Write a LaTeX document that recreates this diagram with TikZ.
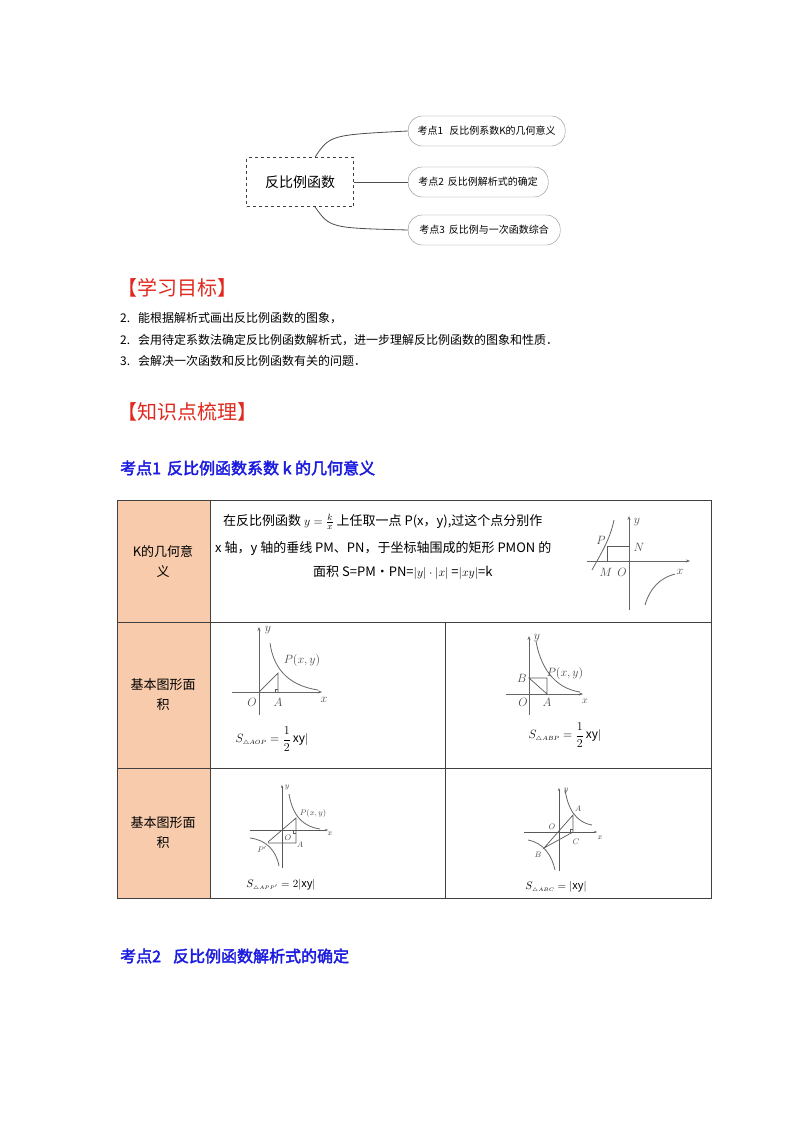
\documentclass[tikz,border=0pt]{standalone}
\usepackage{fontspec}
\setmainfont{Noto Sans CJK SC}
\newfontfamily\bfc{Noto Sans CJK SC}[FakeBold=2.5]
\usetikzlibrary{arrows.meta}
\definecolor{peach}{HTML}{F7CBAC}
\definecolor{redh}{HTML}{E02A20}
\definecolor{blueh}{HTML}{1C1CE0}
\begin{document}
\begin{tikzpicture}[x=1pt,y=-1pt,
  pill/.style={draw=black!45,rounded corners=14pt,minimum height=30pt,inner xsep=6pt,font=\fontsize{10}{11}\selectfont},
  conn/.style={draw=black!70,line width=0.8pt},
  ax/.style={draw=black!60,line width=0.7pt,-{Stealth[length=4pt]}},
  cv/.style={draw=black!60,line width=0.8pt},
  gl/.style={draw=black!65,line width=0.7pt},
  lab/.style={font=\fontsize{12}{12}\selectfont,text=black!70,inner sep=0pt},
  labs/.style={font=\fontsize{8}{8}\selectfont,text=black!70,inner sep=0pt},
  tx/.style={font=\fontsize{13}{15}\selectfont,inner sep=0pt,anchor=west},
  fm/.style={inner sep=0pt,font=\fontsize{12}{12}\selectfont},
  li/.style={font=\fontsize{12}{14}\selectfont,inner sep=0pt,anchor=west}]
\useasboundingbox[fill=white] (0,0) rectangle (800,1132);
% mind map
\node[draw=black!75,dashed,line width=0.8pt,minimum width=107pt,minimum height=49pt,font=\fontsize{14}{14}\selectfont] (root) at (300,182) {反比例函数};
\node[pill,anchor=west,minimum width=157pt] (k1) at (408,131) {考点1\hspace{6pt}反比例系数K的几何意义};
\node[pill,anchor=west,minimum width=140pt] (k2) at (408,182) {考点2\hspace{4pt}反比例解析式的确定};
\node[pill,anchor=west,minimum width=152pt] (k3) at (408,230) {考点3\hspace{4pt}反比例与一次函数综合};
\draw[conn] (root.north) ++(15,0) .. controls (330,135) .. (k1.west);
\draw[conn] (root.east) -- (k2.west);
\draw[conn] (root.south) ++(15,0) .. controls (330,228) .. (k3.west);
% headings
\node[anchor=west,inner sep=0pt,text=redh,font=\fontsize{20}{20}\selectfont] (h1) at (117,288) {【学习目标】};
\node[li] (l1) at (120,318) {2.\hspace{8pt}能根据解析式画出反比例函数的图象，};
\node[li] (l2) at (120,340) {2.\hspace{8pt}会用待定系数法确定反比例函数解析式，进一步理解反比例函数的图象和性质．};
\node[li] (l3) at (120,361) {3.\hspace{8pt}会解决一次函数和反比例函数有关的问题．};
\node[anchor=west,inner sep=0pt,text=redh,font=\fontsize{20}{20}\selectfont] (h2) at (117,412) {【知识点梳理】};
\node[anchor=west,inner sep=0pt,text=blueh,font=\bfc\fontsize{16}{16}\selectfont] (h3) at (120,468) {考点1\hspace{6pt}反比例函数系数 k 的几何意义};
\node[anchor=west,inner sep=0pt,text=blueh,font=\bfc\fontsize{16}{16}\selectfont] (h4) at (120,956) {考点2\hspace{12pt}反比例函数解析式的确定};
% table
\fill[peach] (117,500) rectangle (210,898);
\draw[black!75,line width=0.9pt] (117,500) rectangle (711,898);
\draw[black!75,line width=0.9pt] (210,500) -- (210,898);
\draw[black!75,line width=0.9pt] (117,622) -- (711,622);
\draw[black!75,line width=0.9pt] (117,768) -- (711,768);
\draw[black!75,line width=0.9pt] (445,622) -- (445,898);
\node[align=center,font=\fontsize{13}{20}\selectfont] (c1) at (163,561) {K的几何意\\义};
\node[align=center,font=\fontsize{13}{20}\selectfont] (c2) at (163,695) {基本图形面\\积};
\node[align=center,font=\fontsize{13}{20}\selectfont] (c3) at (163,833) {基本图形面\\积};
\node[tx] (t1) at (223,522) {在反比例函数 $y=\frac{k}{x}$ 上任取一点 P(x，y),过这个点分别作};
\node[tx] (t2) at (215,549) {x 轴，y 轴的垂线 PM、PN，于坐标轴围成的矩形 PMON 的};
\node[tx] (t3) at (313,573) {面积 S=PM·PN=$|y|\cdot|x|$ =$|xy|$=k};
% graph row1
\draw[ax] (587,561) -- (690,561);
\draw[ax] (629,610) -- (629,516);
\draw[cv] (592,570) .. controls (600,555) and (610,540) .. (614,520);
\draw[cv] (645,605) .. controls (650,588) and (660,578) .. (675,574);
\draw[gl] (607,546) -- (629,546);
\draw[gl] (607,546) -- (607,561);
\node[lab] (r1P) at (601,540) {$P$};
\node[lab] (r1N) at (639,547) {$N$};
\node[lab] (r1M) at (606,572) {$M$};
\node[lab] (r1O) at (622,572) {$O$};
\node[lab] (r1y) at (637,522) {$y$};
\node[lab] (r1x) at (680,572) {$x$};
% row2 left
\draw[ax] (232,692) -- (322,692);
\draw[ax] (259,715) -- (259,627);
\draw[cv] (270,643) .. controls (273,665) and (285,685) .. (318,690);
\draw[gl] (259,692) -- (278,673) -- (278,692);
\draw[gl] (275,692) -- (275,689) -- (278,689);
\node[lab] (aP) at (302,660) {$P(x,y)$};
\node[lab] (ay) at (268,630) {$y$};
\node[lab] (aO) at (252,702) {$O$};
\node[lab] (aA) at (278,702) {$A$};
\node[lab] (ax) at (324,700) {$x$};
\node[fm] (af) at (272,739) {$S_{\scriptscriptstyle\triangle AOP}=\displaystyle\frac{1}{2}\,$xy$|$};
% row2 right
\draw[ax] (506,694) -- (583,694);
\draw[ax] (529,715) -- (529,636);
\draw[cv] (536,641) .. controls (540,665) and (553,688) .. (580,692);
\draw[gl] (529,678) -- (547,678) -- (547,694) -- cycle;
\node[lab] (bP) at (565,673) {$P(x,y)$};
\node[lab] (by) at (537,638) {$y$};
\node[lab] (bB) at (522,678) {$B$};
\node[lab] (bO) at (523,702) {$O$};
\node[lab] (bA) at (547,702) {$A$};
\node[labs,font=\fontsize{10}{10}\selectfont] (bx) at (585,701) {$x$};
\node[fm] (bf) at (565,735) {$S_{\scriptscriptstyle\triangle ABP}=\displaystyle\frac{1}{2}\,$xy$|$};
% row3 left
\draw[gl,-{Stealth[length=3pt]}] (250,830) -- (328,830);
\draw[gl,-{Stealth[length=3pt]}] (282,868) -- (282,785);
\draw[cv] (289,794) .. controls (292,812) and (300,826) .. (320,829);
\draw[cv] (250,838) .. controls (266,840) and (276,850) .. (279,866);
\draw[gl] (268,842) -- (296,818) -- (296,843) -- (268,843);
\draw[gl] (293,830) -- (293,833) -- (296,833);
\node[labs] (cP) at (313,813) {$P(x,y)$};
\node[labs] (cy) at (287,788) {$y$};
\node[labs] (cO) at (288,838) {$O$};
\node[labs] (cA) at (300,845) {$A$};
\node[labs] (cP2) at (262,849) {$P'$};
\node[labs] (cx) at (330,834) {$x$};
\node[inner sep=0pt,font=\fontsize{11}{11}\selectfont] (cf) at (281,885) {$S_{\scriptscriptstyle\triangle APP'}=2|$xy$|$};
% row3 right
\draw[gl,-{Stealth[length=3pt]}] (524,832) -- (597,832);
\draw[gl,-{Stealth[length=3pt]}] (559,871) -- (559,788);
\draw[cv] (565,790) .. controls (568,808) and (575,822) .. (592,825);
\draw[cv] (528,840) .. controls (544,843) and (552,856) .. (555,870);
\draw[gl] (573,815) -- (544,848) -- (573,832) -- cycle;
\draw[gl] (570,832) -- (570,829) -- (573,829);
\node[labs] (dA) at (578,809) {$A$};
\node[labs] (dy) at (566,791) {$y$};
\node[labs] (dO) at (552,827) {$O$};
\node[labs] (dC) at (576,842) {$C$};
\node[labs] (dB) at (538,855) {$B$};
\node[labs] (dx) at (600,838) {$x$};
\node[inner sep=0pt,font=\fontsize{11}{11}\selectfont] (df) at (556,887) {$S_{\scriptscriptstyle\triangle ABC}=|$xy$|$};
\end{tikzpicture}
\end{document}
